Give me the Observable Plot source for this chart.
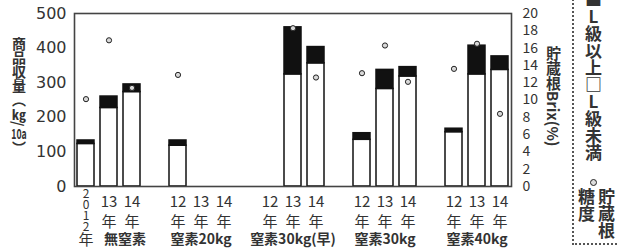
<!DOCTYPE html>
<html><head><meta charset="utf-8">
<script src="https://cdn.jsdelivr.net/npm/d3@7"></script>
<script src="https://cdn.jsdelivr.net/npm/@observablehq/plot@0.6"></script>
<style>
html,body{margin:0;padding:0;background:#fff;}
#wrap{position:relative;width:617px;height:250px;overflow:hidden;font-family:"Noto Sans CJK JP",sans-serif;color:#222;}
.v{position:absolute;writing-mode:vertical-rl;white-space:nowrap;}
.abs{position:absolute;}
.tcy{text-combine-upright:all;}
</style></head>
<body>
<div id="wrap"></div>
<script>
// ---- data ----
const groups = ["無窒素", "窒素20kg", "窒素30kg(早)", "窒素30kg", "窒素40kg"];
const years = ["12", "13", "14"];
// total commercial yield (kg/10a), top of bar
const totalYield = [[133, 260, 295], [133, null, null], [null, 460, 403], [154, 337, 345], [167, 407, 376]];
// L級未満 portion (white, bottom)
const underL = [[123, 227, 273], [118, null, null], [null, 324, 356], [135, 282, 318], [157, 324, 337]];
// storage root Brix (%)
const brix = [[10.1, 16.9, 11.4], [12.9, null, null], [null, 18.3, 12.6], [13.1, 16.3, 12.1], [13.6, 16.5, 8.4]];
const leftTicks = [0, 100, 200, 300, 400, 500];
const rightTicks = [0, 2, 4, 6, 8, 10, 12, 14, 16, 18, 20];

const K = 25; // brix -> left scale factor (20% ↔ 500)
const rows = [];
const domain = [];
groups.forEach((g, gi) => {
  years.forEach((yr, yi) => {
    const key = `${gi}-${yi}`;
    domain.push(key);
    rows.push({key, gi, yi, g, yr, total: totalYield[gi][yi], under: underL[gi][yi], brix: brix[gi][yi]});
  });
  if (gi < groups.length - 1) domain.push(`gap${gi}`);
});
const bars = rows.filter(d => d.total != null);
const dots = rows.filter(d => d.brix != null);
const first = rows.filter(d => d.gi === 0 && d.yi === 0);
const firstMid = rows.filter(d => d.gi === 0 && d.yi === 1);
const otherMid = rows.filter(d => d.gi > 0 && d.yi === 1);

const chart = Plot.plot({
  width: 617, height: 250,
  marginLeft: 74, marginRight: 106, marginTop: 13, marginBottom: 64,
  style: {fontFamily: "'Noto Sans CJK JP', sans-serif", color: "#222", background: "transparent"},
  x: {type: "band", domain, paddingInner: 0.26, paddingOuter: 0.1, axis: null},
  y: {domain: [0, 500], axis: null},
  marks: [
    Plot.barY(bars, {x: "key", y1: 0, y2: "under", fill: "white", stroke: "#111", strokeWidth: 1.5}),
    Plot.barY(bars, {x: "key", y1: "under", y2: "total", fill: "#111", stroke: "#111", strokeWidth: 1.5}),
    Plot.dot(dots, {x: "key", y: d => d.brix * K, r: 2.6, fill: "#d8d8d8", stroke: "#222", strokeWidth: 1}),
    Plot.frame({stroke: "#444", strokeWidth: 1.6}),
    Plot.axisY(leftTicks, {anchor: "left", tickSize: 0, tickPadding: 8, fontSize: 16, fontFamily: "DejaVu Sans", fill: "#333"}),
    Plot.axisY(rightTicks.map(v => v * K), {anchor: "right", tickSize: 0, tickPadding: 11, fontSize: 14, tickFormat: v => v / K, fill: "#333"}),
    // year labels
    Plot.text(rows.filter(d => !(d.gi === 0 && d.yi === 0)), {x: "key", frameAnchor: "bottom", text: d => `${d.yr}\n年`, lineAnchor: "top", dy: 6, fontSize: 15, lineHeight: 1.33, fill: "#333"}),
    Plot.text(first, {x: "key", frameAnchor: "bottom", text: () => "2\n0\n1\n2", lineAnchor: "top", dy: 4, fontSize: 12, lineHeight: 0.9, fill: "#333"}),
    Plot.text(first, {x: "key", frameAnchor: "bottom", text: () => "年", lineAnchor: "middle", dy: 54, fontSize: 15, fill: "#333"}),
    // group labels
    Plot.text(firstMid, {x: "key", frameAnchor: "bottom", text: "g", lineAnchor: "middle", dy: 53, dx: 16, fontSize: 14, fontWeight: "bold", fill: "#333"}),
    Plot.text(otherMid, {x: "key", frameAnchor: "bottom", text: "g", lineAnchor: "middle", dy: 53, fontSize: 14, fontWeight: "bold", fill: "#333"})
  ]
});
const wrap = document.getElementById("wrap");
wrap.appendChild(chart);

function addDiv(html, css, cls = "v") {
  const d = document.createElement("div");
  d.className = cls; d.innerHTML = html; d.style.cssText += css; wrap.appendChild(d); return d;
}
// left axis title
addDiv('商品収量（<span class="tcy">kg</span>/<span class="tcy">10a</span>）', "left:11px;top:37px;font-size:14px;font-weight:bold;line-height:16px;color:#333;");
// right axis title
addDiv('貯蔵根Brix(%)', "left:545px;top:46px;font-size:15px;font-weight:bold;line-height:17px;color:#333;");
// legend box
addDiv('', "left:572px;top:-4px;width:60px;height:249px;border-left:2px dotted #555;border-bottom:2px dotted #555;box-sizing:border-box;", "abs");
addDiv('■L級以上□L級未満', "left:584px;top:-9px;font-size:17px;line-height:18px;text-orientation:upright;font-weight:bold;color:#333;");
addDiv('', "left:590px;top:179px;width:5px;height:5px;border:1.5px solid #222;border-radius:50%;background:#ddd;", "abs");
addDiv('貯蔵根糖度', "left:576px;top:188px;height:54px;font-size:17px;line-height:20px;white-space:normal;font-weight:bold;color:#333;");
</script>
</body></html>
